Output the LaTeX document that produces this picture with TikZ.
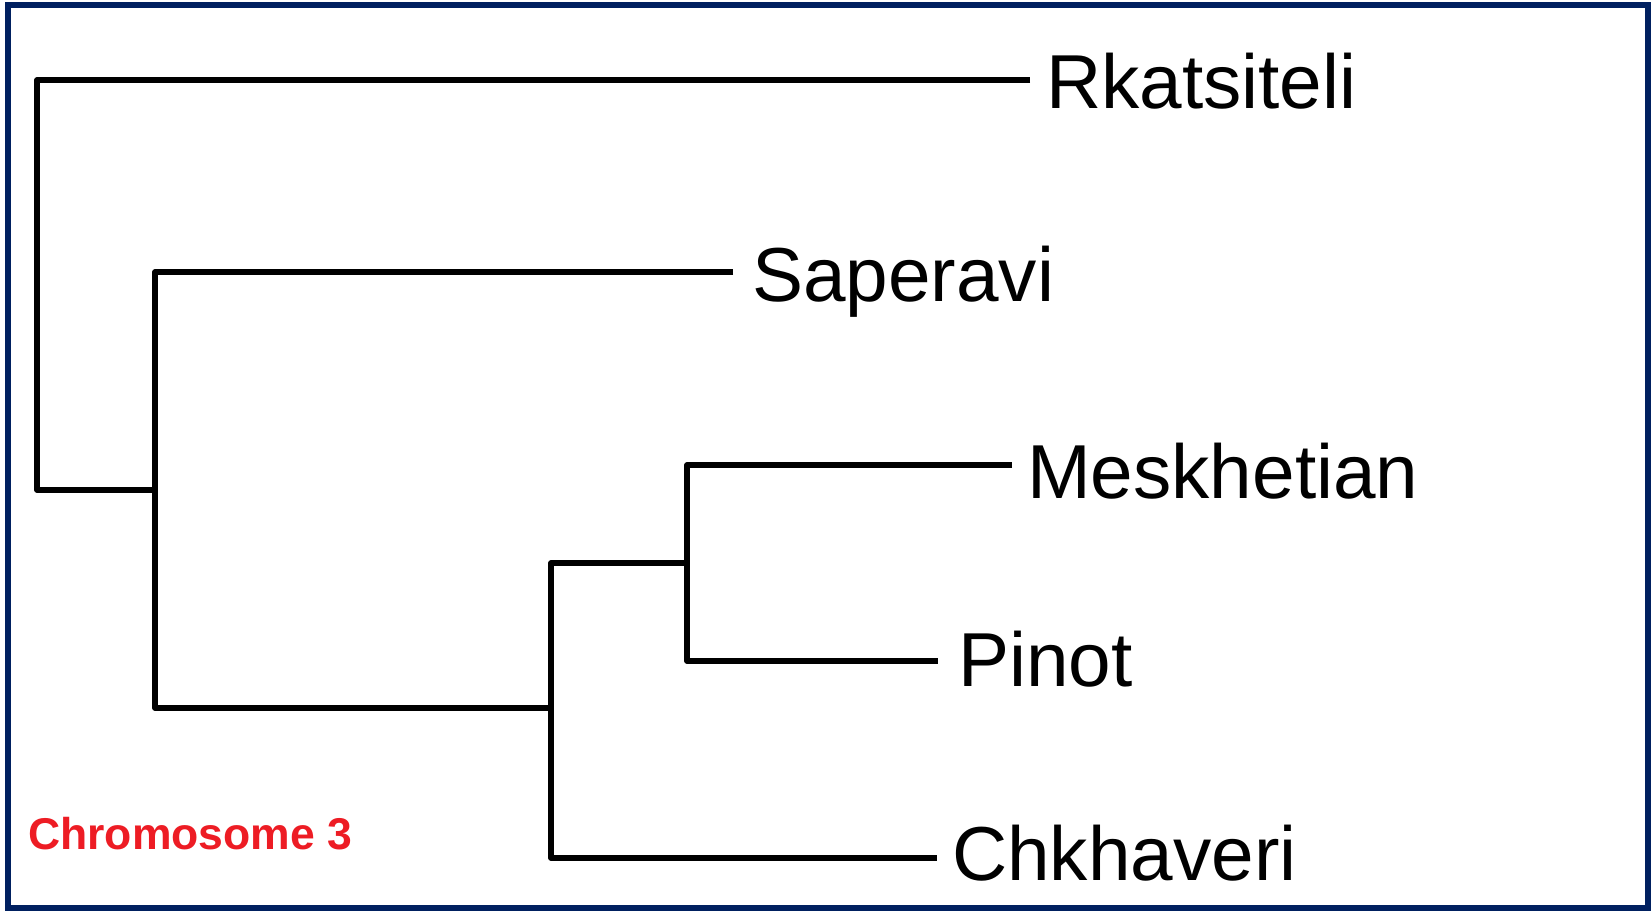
\documentclass[tikz,border=0pt]{standalone}
\usepackage{fontspec}
\setmainfont{Liberation Sans}
\definecolor{navyframe}{RGB}{0,32,96}
\definecolor{chromred}{RGB}{237,28,36}
\tikzset{
  branch/.style={line width=5.5pt, black, line join=round},
  leaf/.style={anchor=base west, inner sep=0pt, font=\fontsize{76.5}{82}\selectfont},
  caption/.style={anchor=base west, inner sep=0pt, text=chromred, font=\bfseries\fontsize{44.5}{50}\selectfont},
  frame/.style={draw=navyframe, line width=6pt}
}
\begin{document}
\begin{tikzpicture}[x=1pt,y=-1pt]
\useasboundingbox (0,0) rectangle (1651,911);
\draw[frame] (8,5) rectangle (1648,908);

% branch end points and junctions
\coordinate (rk) at (1030,80);
\coordinate (a2) at (37,490);
\coordinate (n2) at (155,490);
\coordinate (sa) at (733,272);
\coordinate (b2) at (155,708);
\coordinate (c0) at (551,708);
\coordinate (c1) at (551,563);
\coordinate (d0) at (687,563);
\coordinate (me) at (1012,465);
\coordinate (d2) at (687,661);
\coordinate (pi) at (938,661);
\coordinate (ch) at (937,858);

\draw[branch] (rk) -| (a2) -- (n2);
\draw[branch] (sa) -| (b2) -- (c0);
\draw[branch] (me) -| (d2) -- (pi);
\draw[branch] (d0) -- (c1) |- (ch);

% leaf labels
\node[leaf] (tRk) at (1046,108) {Rkatsiteli};
\node[leaf] (tSa) at (752,301) {Saperavi};
\node[leaf] (tMe) at (1027,498) {Meskhetian};
\node[leaf] (tPi) at (958,686) {Pinot};
\node[leaf] (tCh) at (952,880) {Chkhaveri};

\node[caption] (cap) at (28,849) {Chromosome 3};
\end{tikzpicture}
\end{document}
